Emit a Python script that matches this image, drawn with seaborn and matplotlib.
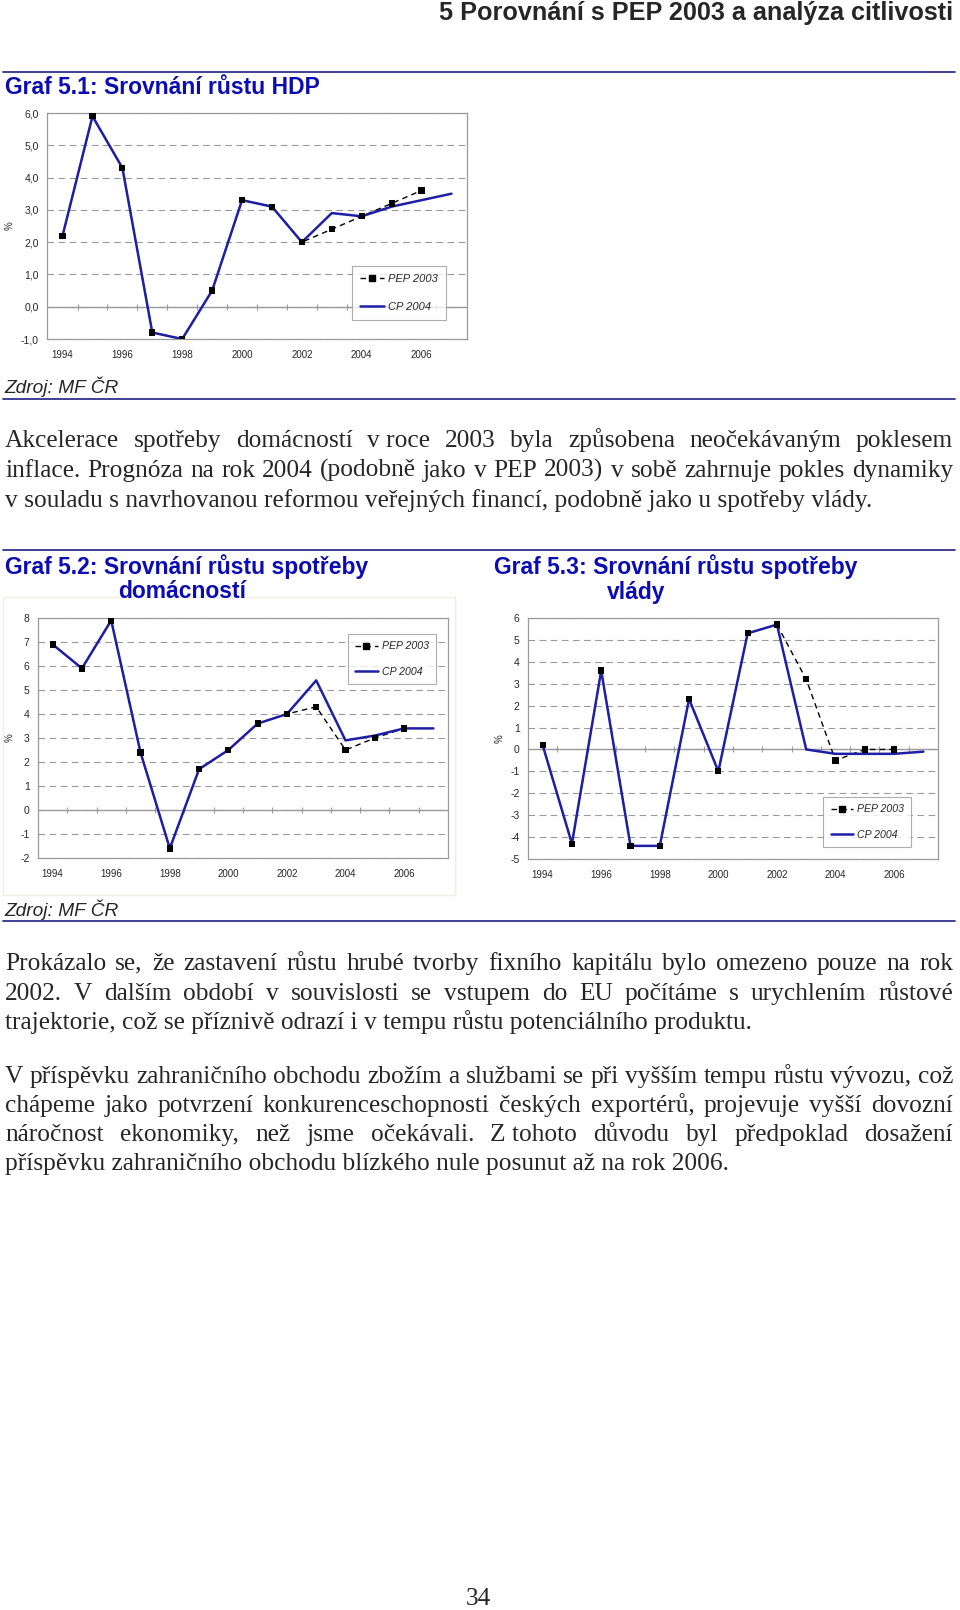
import numpy as np
import pandas as pd
import matplotlib
matplotlib.use("Agg")
import matplotlib.pyplot as plt
import seaborn as sns
from matplotlib.lines import Line2D
from matplotlib.patches import Rectangle
from matplotlib.ticker import FuncFormatter, MultipleLocator

sns.set_style("white")
plt.rcParams['font.family'] = ['Liberation Sans', 'DejaVu Sans']

# ---------------- data ----------------
years_cp = list(range(1994, 2008))
years_pep = list(range(1994, 2007))
xtick_years = [1994, 1996, 1998, 2000, 2002, 2004, 2006]

hdp_cp = [2.2, 5.9, 4.3, -0.8, -1.0, 0.5, 3.3, 3.1, 2.0, 2.9, 2.8, 3.1, 3.3, 3.5]
hdp_pep = [2.2, 5.9, 4.3, -0.8, -1.0, 0.5, 3.3, 3.1, 2.0, 2.4, 2.8, 3.2, 3.6]

dom_cp = [6.9, 5.9, 7.9, 2.4, -1.6, 1.7, 2.5, 3.6, 4.0, 5.4, 2.9, 3.1, 3.4, 3.4]
dom_pep = [6.9, 5.9, 7.9, 2.4, -1.6, 1.7, 2.5, 3.6, 4.0, 4.3, 2.5, 3.0, 3.4]

vl_cp = [0.2, -4.3, 3.6, -4.4, -4.4, 2.3, -1.0, 5.3, 5.7, 0.0, -0.2, -0.2, -0.2, -0.1]
vl_pep = [0.2, -4.3, 3.6, -4.4, -4.4, 2.3, -1.0, 5.3, 5.7, 3.2, -0.5, 0.0, 0.0]

series_names = ['PEP 2003', 'CP 2004']

header = "5 Porovnání s PEP 2003 a analýza citlivosti"
title1 = "Graf 5.1: Srovnání růstu HDP"
title2 = ["Graf 5.2: Srovnání růstu spotřeby", "domácností"]
title3 = ["Graf 5.3: Srovnání růstu spotřeby", "vlády"]
source = "Zdroj: MF ČR"

para1 = ["Akcelerace spotřeby domácností v\u00a0roce 2003 byla způsobena neočekávaným poklesem",
         "inflace. Prognóza na rok 2004 (podobně jako v PEP 2003) v sobě zahrnuje pokles dynamiky",
         "v souladu s navrhovanou reformou veřejných financí, podobně jako u spotřeby vlády."]
para2 = ["Prokázalo se, že zastavení růstu hrubé tvorby fixního kapitálu bylo omezeno pouze na rok",
         "2002. V dalším období v souvislosti se vstupem do EU počítáme s urychlením růstové",
         "trajektorie, což se příznivě odrazí i v tempu růstu potenciálního produktu."]
para3 = ["V příspěvku zahraničního obchodu zbožím a službami se při vyšším tempu růstu vývozu, což",
         "chápeme jako potvrzení konkurenceschopnosti českých exportérů, projevuje vyšší dovozní",
         "náročnost ekonomiky, než jsme očekávali. Z\u00a0tohoto důvodu byl předpoklad dosažení",
         "příspěvku zahraničního obchodu blízkého nule posunut až na rok 2006."]
page_no = "34"

# ---------------- styles ----------------
W, H = 960, 1610
BLUE = "#1f1fa5"
TITLE_BLUE = "#0c0cb4"
RULE = "#30308c"
GRID = "#9a9a9a"
SERIF = ['Liberation Serif', 'DejaVu Serif']

fig = plt.figure(figsize=(W / 100, H / 100), dpi=100)
fig.patch.set_facecolor("white")
renderer = fig.canvas.get_renderer()


def fx(x):
    return x / W


def fy(y):
    return 1 - y / H


def ftext(x, y, s, **kw):
    return fig.text(fx(x), fy(y), s, **kw)


def text_width(s, size, **kw):
    t = fig.text(0, 0, s, fontsize=size, **kw)
    w = t.get_window_extent(renderer).width
    t.remove()
    return w


def fit_size(s, width, **kw):
    return 12 * width / text_width(s, 12, **kw)


def hline(y, x0=3, x1=955):
    fig.add_artist(Line2D([fx(x0), fx(x1)], [fy(y), fy(y)], transform=fig.transFigure,
                          color=RULE, lw=1.3))


def justify(line, y, size, x0=5, x1=953, last=False):
    # y is the visual centre of the line; convert to a baseline so that
    # words with descenders are not shifted
    yb = y + 0.30 * size * 100 / 72
    words = line.split(' ')
    widths = [text_width(w, size, family=SERIF) for w in words]
    if last or len(words) == 1:
        ftext(x0, yb, line, fontsize=size, family=SERIF, va='baseline', ha='left')
        return
    gap = (x1 - x0 - sum(widths)) / (len(words) - 1)
    x = x0
    for w, wd in zip(words, widths):
        ftext(x, yb, w, fontsize=size, family=SERIF, va='baseline', ha='left')
        x += wd + gap


def paragraph(lines, ys, size):
    for i, (ln, y) in enumerate(zip(lines, ys)):
        justify(ln, y, size, last=(i == len(lines) - 1))


def draw_chart(rect, cp, pep, ylim, fmt, xlim, leg_anchor, ylab_x, leg_style):
    ax = fig.add_axes(rect)
    ax.set_facecolor("white")
    df_cp = pd.DataFrame({'rok': years_cp, 'hodnota': cp})
    df_pep = pd.DataFrame({'rok': years_pep, 'hodnota': pep})
    ax.yaxis.set_major_locator(MultipleLocator(1))
    ax.grid(axis='y', color=GRID, ls=(0, (6, 4)), lw=0.8, zorder=0)
    ax.grid(axis='x', visible=False)
    ax.axhline(0, color=GRID, lw=1.0, zorder=1)
    sns.lineplot(data=df_pep, x='rok', y='hodnota', ax=ax, color='black', lw=1.0,
                 linestyle=(0, (4, 3)), zorder=3)
    sns.lineplot(data=df_cp, x='rok', y='hodnota', ax=ax, color=BLUE, lw=1.8, zorder=4)
    sns.scatterplot(data=df_pep, x='rok', y='hodnota', ax=ax, marker='s', s=20,
                    color='black', edgecolor='none', zorder=5)
    ax.set_xlim(*xlim)
    ax.set_ylim(*ylim)
    ax.set_xticks(xtick_years)
    ax.set_xticklabels([str(y) for y in xtick_years])
    ax.yaxis.set_major_formatter(FuncFormatter(fmt))
    ax.tick_params(axis='x', length=0, pad=8, labelsize=7)
    ax.tick_params(axis='y', length=0, pad=6, labelsize=7.5)
    for sp in ax.spines.values():
        sp.set_visible(True)
        sp.set_color(GRID)
        sp.set_linewidth(0.9)
    ax.set_xlabel('')
    ax.set_ylabel('%', fontsize=7)
    ax.yaxis.set_label_coords(ylab_x, 0.5)
    # category tick marks on the zero line
    zero_frac = (0 - ylim[0]) / (ylim[1] - ylim[0])
    sec = ax.secondary_xaxis(zero_frac)
    sec.set_xticks(np.arange(years_cp[0] + 0.5, years_cp[-1], 1.0))
    sec.tick_params(length=4, direction='inout', color=GRID, labelbottom=False,
                    labeltop=False, width=0.8)
    for sp in sec.spines.values():
        sp.set_visible(False)
    handles = [Line2D([], [], color='black', ls=(0, (4, 3)), lw=1.0, marker='s', ms=4.5),
               Line2D([], [], color=BLUE, lw=1.8)]
    leg = ax.legend(handles, series_names, loc='lower left', bbox_to_anchor=leg_anchor,
                    borderaxespad=0, frameon=True, fancybox=False, edgecolor=GRID,
                    prop={'style': 'italic', 'size': leg_style['size']},
                    handlelength=leg_style['handlelength'],
                    handletextpad=0.4, labelspacing=leg_style['labelspacing'],
                    borderpad=leg_style['borderpad'])
    leg.get_frame().set_linewidth(0.8)
    return ax


# ---------------- header ----------------
hs = fit_size(header, 512, fontweight='bold')
ftext(953, 13, header, fontsize=hs, fontweight='bold', ha='right', va='center')
hline(72)

ts = fit_size(title1, 315, fontweight='bold')
ftext(5, 88, title1, fontsize=ts, fontweight='bold', color=TITLE_BLUE, ha='left', va='center')

# ---------------- chart 1 ----------------
draw_chart([fx(47), fy(339), (467 - 47) / W, (339 - 113) / H], hdp_cp, hdp_pep, (-1, 6),
           lambda v, p: f"{v:.1f}".replace('.', ','), (1993.48, 2007.52), (0.726, 0.084), -0.076,
           dict(size=8, handlelength=2.1, labelspacing=1.6, borderpad=0.75))

zs = fit_size(source, 114, style='italic')
ftext(4, 387, source, fontsize=zs, style='italic', ha='left', va='center')
hline(399)

# ---------------- paragraph 1 ----------------
ps = np.mean([fit_size(para1[-1], 888, family=SERIF),
              fit_size(para2[-1], 736, family=SERIF),
              fit_size(para3[-1], 714, family=SERIF)])
paragraph(para1, [439, 469, 499], ps)

hline(550)
ftext(5, 567, title2[0], fontsize=ts, fontweight='bold', color=TITLE_BLUE, ha='left', va='center')
ftext(182, 592, title2[1], fontsize=ts, fontweight='bold', color=TITLE_BLUE, ha='center', va='center')
ftext(494, 567, title3[0], fontsize=ts, fontweight='bold', color=TITLE_BLUE, ha='left', va='center')
ftext(636, 592, title3[1], fontsize=ts, fontweight='bold', color=TITLE_BLUE, ha='center', va='center')

fig.add_artist(Rectangle((fx(3), fy(895)), 452 / W, 298 / H, transform=fig.transFigure,
                         fill=False, edgecolor='#efefe4', lw=1.0))

# ---------------- charts 2 and 3 ----------------
small_leg = dict(size=7.6, handlelength=2.1, labelspacing=1.45, borderpad=0.7)
draw_chart([fx(38), fy(858), (448 - 38) / W, (858 - 618) / H], dom_cp, dom_pep, (-2, 8),
           lambda v, p: f"{v:.0f}", (1993.5, 2007.5), (0.756, 0.725), -0.056, small_leg)
draw_chart([fx(528), fy(859), (938 - 528) / W, (859 - 618) / H], vl_cp, vl_pep, (-5, 6),
           lambda v, p: f"{v:.0f}", (1993.5, 2007.5), (0.72, 0.05), -0.058, small_leg)

ftext(4, 910, source, fontsize=zs, style='italic', ha='left', va='center')
hline(921)

# ---------------- paragraphs 2, 3 ----------------
paragraph(para2, [962, 992, 1021], ps)
paragraph(para3, [1075, 1104, 1133, 1162], ps)

ftext(478, 1599, page_no, fontsize=ps, family=SERIF, ha='center', va='center')

fig.savefig("out.png", dpi=100, facecolor="white")
